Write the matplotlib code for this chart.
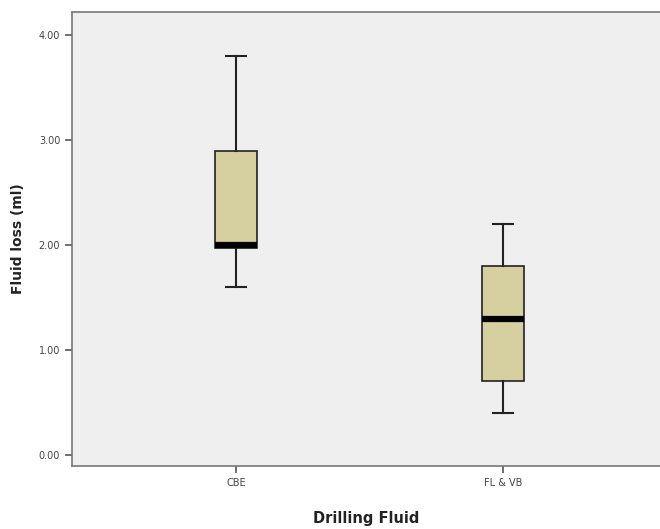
import matplotlib
matplotlib.use("Agg")
import matplotlib.pyplot as plt

# Box statistics
groups = ["CBE", "FL & VB"]
whisker_low = [1.60, 0.40]
q1 = [1.97, 0.70]
median = [2.00, 1.30]
q3 = [2.90, 1.80]
whisker_high = [3.80, 2.20]
y_ticks = [0.0, 1.0, 2.0, 3.0, 4.0]

stats = []
for i, name in enumerate(groups):
    stats.append({
        "label": name,
        "whislo": whisker_low[i],
        "q1": q1[i],
        "med": median[i],
        "q3": q3[i],
        "whishi": whisker_high[i],
        "fliers": [],
    })

fig = plt.figure(figsize=(6.6, 5.29), dpi=100)
ax = fig.add_axes([72 / 660, 63 / 529, 588 / 660, 454 / 529])
ax.set_facecolor("#efefef")

ax.bxp(
    stats,
    positions=[1, 2],
    widths=0.157,
    patch_artist=True,
    boxprops=dict(facecolor="#d6cf9f", edgecolor="#222222", linewidth=1.2),
    medianprops=dict(color="black", linewidth=4.5, solid_capstyle="butt"),
    whiskerprops=dict(color="#222222", linewidth=1.5),
    capprops=dict(color="#222222", linewidth=1.5),
    capwidths=0.075,
)

ax.set_xlim(0.386, 2.588)
ax.set_ylim(-0.105, 4.22)
ax.set_yticks(y_ticks)
ax.set_yticklabels([f"{v:.2f}" for v in y_ticks])

for s in ["top", "left", "bottom"]:
    ax.spines[s].set_color("#777777")
    ax.spines[s].set_linewidth(1.2)
ax.spines["right"].set_visible(False)

ax.tick_params(axis="both", labelsize=7, colors="#555555", labelcolor="#444444",
               length=5, width=1.2, direction="out")

ax.set_ylabel("Fluid loss (ml)", fontsize=10, fontweight="bold", labelpad=10, color="#222222")
ax.set_xlabel("Drilling Fluid", fontsize=10.5, fontweight="bold", labelpad=17, color="#222222")

fig.savefig("out.png", dpi=100, facecolor="white")
